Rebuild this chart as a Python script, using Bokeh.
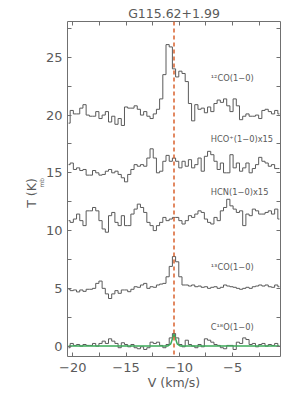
from bokeh.plotting import figure
from bokeh.models import (FixedTicker, LinearAxis, Span, Label, Range1d,
                          CustomLabelingPolicy, Title)
from bokeh.embed import file_html
from bokeh.resources import INLINE

# ---------------- data ----------------
v_start = -20.4      # km/s, first channel
chan_width = 0.3     # km/s

co12 = [19.3, 20.4, 20.1, 20.1, 20.6, 20.9, 20.0, 19.9, 19.9, 20.3,
        19.7, 20.0, 20.3, 19.4, 19.9, 19.2, 19.7, 19.1, 20.7, 20.6,
        20.6, 20.8, 20.5, 20.0, 20.3, 19.9, 19.7, 20.1, 20.5, 21.4,
        23.5, 26.1, 25.9, 24.0, 23.3, 23.8, 23.6, 22.9, 21.0, 19.5,
        20.9, 20.5, 20.6, 20.2, 20.7, 20.3, 21.0, 21.3, 21.1, 21.4,
        20.8, 20.3, 21.4, 20.8, 19.6, 19.9, 20.1, 19.9, 19.9, 20.0,
        19.7, 20.4, 20.5, 20.3, 20.1, 20.4, 20.1]

hcop = [15.71, 15.85, 15.29, 15.43, 15.20, 15.29, 14.80, 14.80, 15.20, 15.00,
        14.80, 14.86, 15.14, 15.29, 15.00, 15.14, 14.86, 14.57, 14.22, 14.86,
        15.29, 15.71, 15.57, 15.71, 15.57, 16.28, 17.08, 16.28, 15.00, 15.14,
        16.00, 16.51, 16.00, 16.28, 16.00, 15.43, 16.00, 15.57, 16.14, 15.43,
        15.71, 16.28, 15.14, 16.43, 16.86, 16.57, 16.00, 15.29, 15.85, 15.00,
        15.00, 16.57, 15.43, 15.85, 15.14, 15.43, 15.85, 15.00, 15.37, 15.71,
        16.34, 16.00, 15.85, 15.57, 15.71, 15.37, 15.37]

hcn = [10.86, 10.71, 11.00, 11.43, 10.86, 10.43, 11.71, 11.71, 12.00, 11.71,
       10.86, 10.14, 9.86, 11.29, 11.57, 10.71, 10.43, 11.29, 10.43, 10.43,
       11.43, 11.86, 12.29, 12.00, 11.57, 10.71, 10.43, 10.00, 10.43, 10.71,
       11.14, 10.86, 11.00, 11.14, 11.14, 10.86, 10.57, 10.86, 11.29, 11.14,
       11.43, 11.71, 11.57, 11.00, 10.71, 10.57, 11.14, 10.86, 11.71, 12.00,
       12.71, 12.14, 11.86, 11.57, 11.71, 10.43, 11.43, 11.29, 11.86, 11.71,
       11.43, 11.43, 11.57, 11.71, 11.43, 11.86, 11.00]

co13 = [4.92, 4.80, 4.86, 4.69, 4.86, 4.74, 4.92, 4.92, 5.00, 5.43,
        5.63, 5.00, 4.52, 4.12, 4.52, 4.80, 4.57, 4.86, 4.86, 4.71,
        4.92, 5.14, 5.09, 5.29, 5.43, 5.00, 5.14, 5.09, 5.29, 5.37,
        5.43, 6.00, 6.90, 7.75, 7.30, 6.00, 5.29, 5.29, 5.20, 5.29,
        5.14, 5.20, 5.09, 5.14, 5.00, 5.09, 5.14, 5.00, 5.09, 5.29,
        5.20, 5.14, 5.09, 5.00, 4.92, 5.00, 5.09, 5.00, 5.14, 5.20,
        5.29, 5.20, 5.29, 5.14, 5.09, 5.29, 5.14]

c18o = [-0.14, 0.23, 0.06, 0.14, 0.00, 0.14, 0.06, 0.06, 0.23, 0.00,
        0.23, 0.43, 0.23, 0.63, 0.43, 0.23, -0.14, 0.29, 0.14, -0.06,
        0.14, -0.14, -0.23, -0.06, -0.29, -0.14, 0.34, 0.23, 0.34, 0.06,
        -0.14, 0.14, 0.71, 1.09, 0.71, 0.14, -0.06, 0.51, 0.14, 0.00,
        -0.14, 0.14, -0.06, 0.63, 0.51, 0.34, 0.14, 0.06, -0.14, -0.23,
        0.06, 0.06, -0.29, 0.34, 0.23, 0.71, 0.57, 0.14, 0.23, -0.06,
        0.14, 0.23, 0.00, 0.14, 0.06, 0.23, 0.00]

c18o_fit = [0.0] * 32 + [0.2, 1.05, 0.2] + [0.0] * 32

v_lsr_line = -10.5   # km/s, dashed systemic velocity

x_major = [-20, -15, -10, -5]
x_minor = [-17.5, -12.5, -7.5, -2.5]
y_major = [0, 5, 10, 15, 20, 25]
y_minor = [2.5, 7.5, 12.5, 17.5, 22.5, 27.5]

labels = ["\u00b9\u00b2CO(1\u22120)", "HCO\u207a(1\u22120)x15", "HCN(1\u22120)x15",
          "\u00b9\u00b3CO(1\u22120)", "C\u00b9\u2078O(1\u22120)"]
label_y = [23.25, 17.94, 13.38, 6.82, 1.69]
label_x = -7.05

title_text = "G115.62+1.99"

velocity = [round(v_start + chan_width * i, 3) for i in range(len(co12))]

# ---------------- figure ----------------
FONT = "DejaVu Sans"
GRAY = "#5a5a5a"
AXC = "#707070"

p = figure(width=299, height=398, output_backend="svg", toolbar_location=None,
           x_range=Range1d(-20.5, -0.5), y_range=Range1d(-0.9, 28.1),
           min_border_left=67, min_border_right=19, min_border_top=21,
           min_border_bottom=42)
p.xgrid.visible = False
p.ygrid.visible = False
p.outline_line_color = AXC
p.outline_line_width = 1
p.background_fill_color = "white"
p.border_fill_color = "white"

p.title.text = title_text
p.title.align = "center"
p.title.text_font = FONT
p.title.text_font_size = "12.5px"
p.title.text_font_style = "normal"
p.title.text_color = GRAY
p.title.standoff = 2

hide_all = CustomLabelingPolicy(code="for (const i of indices) indices.unset(i)")


def style_axis(ax, ticks, minor, show_labels, overrides=None):
    ax.ticker = FixedTicker(ticks=ticks, minor_ticks=minor)
    ax.axis_line_color = None
    ax.major_tick_in = 4
    ax.major_tick_out = 0
    ax.minor_tick_in = 4
    ax.minor_tick_out = 0
    ax.major_tick_line_color = AXC
    ax.minor_tick_line_color = AXC
    ax.major_label_text_font = FONT
    ax.major_label_text_color = GRAY
    if show_labels:
        ax.major_label_text_font_size = "13px"
        ax.major_label_standoff = 6
        if overrides:
            ax.major_label_overrides = overrides
    else:
        ax.major_label_text_font_size = "0px"
        ax.major_label_standoff = 0
        ax.major_label_policy = hide_all


style_axis(p.xaxis[0], x_major, x_minor, True,
           {t: ("\u2212" + str(abs(t))) for t in x_major})
style_axis(p.yaxis[0], y_major, y_minor, True)
p.yaxis[0].major_label_standoff = 5
p.xaxis[0].axis_label = "V (km/s)"
p.xaxis[0].axis_label_text_font = FONT
p.xaxis[0].axis_label_text_font_size = "12.5px"
p.xaxis[0].axis_label_text_font_style = "normal"
p.xaxis[0].axis_label_text_color = GRAY
p.xaxis[0].axis_label_standoff = 0

top_ax = LinearAxis()
style_axis(top_ax, x_major, x_minor, False)
p.add_layout(top_ax, "above")
right_ax = LinearAxis()
style_axis(right_ax, y_major, y_minor, False)
p.add_layout(right_ax, "right")

# y axis label  T_mb (K): subscript panel next to the axis, main text outside
p.add_layout(Title(text="mb", align="left", offset=169, standoff=-4,
                   text_font=FONT, text_font_size="6px",
                   text_font_style="normal", text_color=GRAY), "left")
p.add_layout(Title(text="T   (K)", align="center", standoff=-3,
                   text_font=FONT, text_font_size="12.5px",
                   text_font_style="normal", text_color=GRAY), "left")

# spectra
for spec in (co12, hcop, hcn, co13, c18o):
    p.step(x=velocity, y=spec, mode="center", line_color=GRAY, line_width=1)

# baseline + gaussian fit of C18O
p.line(x=velocity, y=c18o_fit, line_color="#3dab5a", line_width=1.5)

# systemic velocity
p.add_layout(Span(location=v_lsr_line, dimension="height", line_color="#d8602c",
                  line_dash="4 3", line_width=1.5))

# spectrum labels
for txt, yy in zip(labels, label_y):
    p.add_layout(Label(x=label_x, y=yy, text=txt, text_font=FONT,
                       text_font_size="8.3px", text_color=GRAY,
                       text_align="left", text_baseline="middle"))

open("out.html", "w").write(file_html(p, INLINE))
